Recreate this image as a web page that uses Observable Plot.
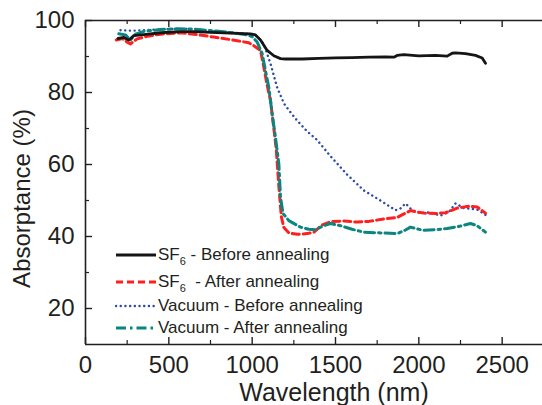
<!DOCTYPE html>
<html>
<head>
<meta charset="utf-8">
<script src="https://cdn.jsdelivr.net/npm/d3@7"></script>
<script src="https://cdn.jsdelivr.net/npm/@observablehq/plot@0.6"></script>
<style>
  html, body { margin: 0; padding: 0; background: #fff; }
  #wrap { position: relative; width: 542px; height: 405px; overflow: hidden; }
  .legend { position: absolute; left: 0; top: 0; font-family: "Liberation Sans", Arial, sans-serif; font-size: 17px; color: #231f20; }
  .row { position: absolute; left: 115px; height: 20px; display: flex; align-items: center; white-space: nowrap; }
  .row svg { width: 42px; height: 8px; margin-right: 1px; }
  sub { font-size: 11px; vertical-align: -5px; line-height: 0; }
</style>
</head>
<body>
<div id="wrap"></div>
<script>
// ---- Data ----
const sf6BeforeWl = [195,230,260,290,350,450,570,650,750,870,990,1020,1050,1090,1130,1170,1200,1300,1400,1500,1600,1700,1800,1850,1870,1910,2000,2100,2170,2200,2220,2280,2340,2380,2400];
const sf6BeforeAbs = [95.0,95.3,94.6,95.8,96.1,96.6,96.9,96.9,96.7,96.5,96.3,96.0,94.6,91.7,90.2,89.4,89.3,89.3,89.5,89.6,89.7,89.8,89.9,89.8,90.3,90.5,90.2,90.3,90.1,90.9,91.0,90.8,90.3,89.6,88.1];

const sf6AfterWl = [185,220,250,270,310,370,450,570,680,770,910,980,1010,1050,1070,1090,1110,1130,1145,1160,1175,1190,1220,1270,1330,1370,1420,1470,1550,1630,1700,1780,1870,1920,1950,1990,2030,2100,2160,2230,2300,2350,2400];
const sf6AfterAbs = [94.6,95.0,94.0,93.5,94.9,95.6,96.2,96.6,96.0,95.4,94.4,93.8,93.0,91.7,87.0,82.0,77.8,70.0,64.0,54.0,45.5,42.5,41.0,40.6,40.8,41.2,43.2,44.1,44.3,44.0,44.2,44.8,45.3,46.5,47.2,46.8,46.5,46.4,46.6,47.9,48.4,48.2,46.5];

const vacBeforeWl = [210,260,300,400,500,600,700,830,970,1030,1070,1110,1150,1190,1230,1270,1330,1390,1470,1570,1670,1770,1860,1890,1920,1960,2010,2070,2130,2180,2220,2270,2350,2400];
const vacBeforeAbs = [97.3,97.2,97.2,97.4,97.6,97.7,97.4,96.8,96.3,95.6,93.5,88.0,81.4,77.0,74.5,72.2,69.2,66.8,62.3,57.2,52.8,50.0,47.3,47.8,49.2,47.3,46.5,46.7,45.8,46.8,49.2,47.9,47.5,46.0];

const vacAfterWl = [200,240,270,300,350,450,550,650,750,850,970,1000,1030,1060,1080,1100,1120,1140,1160,1170,1185,1220,1290,1340,1380,1430,1470,1530,1600,1670,1770,1870,1920,1950,2000,2030,2100,2170,2250,2310,2350,2400];
const vacAfterAbs = [96.3,96.0,94.6,96.2,97.0,97.5,97.7,97.6,97.2,96.8,96.0,95.5,94.0,90.8,86.0,81.4,74.0,67.5,60.2,51.0,46.4,44.4,42.6,42.0,41.9,43.0,43.6,43.0,42.0,41.2,41.0,40.8,41.8,42.6,42.0,41.7,41.9,42.2,42.9,43.6,43.0,41.2];

const xTicks = [0, 500, 1000, 1500, 2000, 2500];
const xMinorTicks = [250, 750, 1250, 1750, 2250];
const yTicks = [20, 40, 60, 80, 100];
const yMinorTicks = [30, 50, 70, 90];

const seriesNames = ["SF6 - Before annealing", "SF6 - After annealing", "Vacuum - Before annealing", "Vacuum - After annealing"];

const toRows = (wl, ab) => wl.map((w, i) => ({wl: w, abs: ab[i]}));
const sf6Before = toRows(sf6BeforeWl, sf6BeforeAbs);
const sf6After = toRows(sf6AfterWl, sf6AfterAbs);
const vacBefore = toRows(vacBeforeWl, vacBeforeAbs);
const vacAfter = toRows(vacAfterWl, vacAfterAbs);

// ---- Styles ----
const cBlack = "#151515", cRed = "#ff1f1f", cBlue = "#2d4aa6", cTeal = "#0a8580";
const sBlack = {stroke: cBlack, strokeWidth: 2.8};
const sRed = {stroke: cRed, strokeWidth: 3, strokeDasharray: "7,4"};
const sBlue = {stroke: cBlue, strokeWidth: 2.4, strokeDasharray: "0.1,4.6", strokeLinecap: "round"};
const sTeal = {stroke: cTeal, strokeWidth: 3, strokeDasharray: "10,4,2.5,4"};

const W = 542, H = 405, mL = 85, mT = 20, mB = 61, mR = 0;
const frameW = W - mL - mR, frameH = H - mT - mB;
const axisColor = "#231f20";

const plot = Plot.plot({
  width: W, height: H,
  marginLeft: mL, marginTop: mT, marginBottom: mB, marginRight: mR,
  x: {domain: [0, 2742]},
  y: {domain: [10, 100]},
  style: {fontFamily: "'Liberation Sans', Arial, sans-serif", fontSize: "24px", color: axisColor, background: "#fff", overflow: "visible"},
  marks: [
    // spines
    Plot.ruleX([0], {stroke: axisColor, strokeWidth: 1.6}),
    Plot.ruleY([10, 100], {stroke: axisColor, strokeWidth: 1.6}),
    // inward ticks
    Plot.tickX(xTicks, {x: d => d, insetTop: frameH - 7, stroke: axisColor, strokeWidth: 1.4}),
    Plot.tickX(xMinorTicks, {x: d => d, insetTop: frameH - 4, stroke: axisColor, strokeWidth: 1.2}),
    Plot.tickX(xTicks, {x: d => d, insetBottom: frameH - 7, stroke: axisColor, strokeWidth: 1.4}),
    Plot.tickX(xMinorTicks, {x: d => d, insetBottom: frameH - 4, stroke: axisColor, strokeWidth: 1.2}),
    Plot.tickY(yTicks, {y: d => d, insetRight: frameW - 7, stroke: axisColor, strokeWidth: 1.4}),
    Plot.tickY(yMinorTicks, {y: d => d, insetRight: frameW - 4, stroke: axisColor, strokeWidth: 1.2}),
    // tick labels
    Plot.axisX({ticks: xTicks, tickSize: 0, tickPadding: 11, tickFormat: d => String(d), label: null, fill: axisColor, fontSize: 24, ariaLabel: "x-axis tick label"}),
    Plot.axisY({ticks: yTicks, tickSize: 0, tickPadding: 11, tickFormat: d => String(d), label: null, fill: axisColor, fontSize: 24}),
    // axis titles
    Plot.text(["Wavelength (nm)"], {frameAnchor: "bottom", text: d => d, dx: 20, dy: 48, textAnchor: "middle", lineAnchor: "middle", fontSize: 25, fill: axisColor, ariaLabel: "x-title"}),
    Plot.text(["Absorptance (%)"], {frameAnchor: "left", text: d => d, rotate: -90, dx: -63, dy: 16, textAnchor: "middle", lineAnchor: "middle", fontSize: 24, fill: axisColor}),
    // series
    Plot.line(vacBefore, {x: "wl", y: "abs", ...sBlue}),
    Plot.line(sf6After, {x: "wl", y: "abs", ...sRed}),
    Plot.line(vacAfter, {x: "wl", y: "abs", ...sTeal}),
    Plot.line(sf6Before, {x: "wl", y: "abs", ...sBlack, strokeLinejoin: "round"})
  ]
});

// slightly wider horizontal text, as in the reference
d3.select(plot).selectAll('g[aria-label="x-axis tick label"] text').attr("letter-spacing", "1px");
d3.select(plot).selectAll('g[aria-label="x-title"] text').attr("letter-spacing", "1px");

const wrap = document.getElementById("wrap");
wrap.appendChild(plot);

// ---- Legend overlay ----
const legendStyles = [sBlack, sRed, sBlue, sTeal];
const legendTops = [245, 272, 296, 318];
const legend = document.createElement("div");
legend.className = "legend";
seriesNames.forEach((name, i) => {
  const s = legendStyles[i];
  const row = document.createElement("div");
  row.className = "row";
  row.style.top = legendTops[i] + "px";
  const dash = s.strokeDasharray ? `stroke-dasharray="${s.strokeDasharray}"` : "";
  const cap = s.strokeLinecap ? `stroke-linecap="${s.strokeLinecap}"` : "";
  const label = name.replace("SF6", "SF<sub>6</sub>").replace("SF<sub>6</sub> - After", "SF<sub>6</sub>&nbsp; - After");
  row.innerHTML = `<svg viewBox="0 0 42 8"><line x1="1" x2="41" y1="4" y2="4" stroke="${s.stroke}" stroke-width="${s.strokeWidth}" ${dash} ${cap}/></svg><span>${label}</span>`;
  legend.appendChild(row);
});
wrap.appendChild(legend);
</script>
</body>
</html>
